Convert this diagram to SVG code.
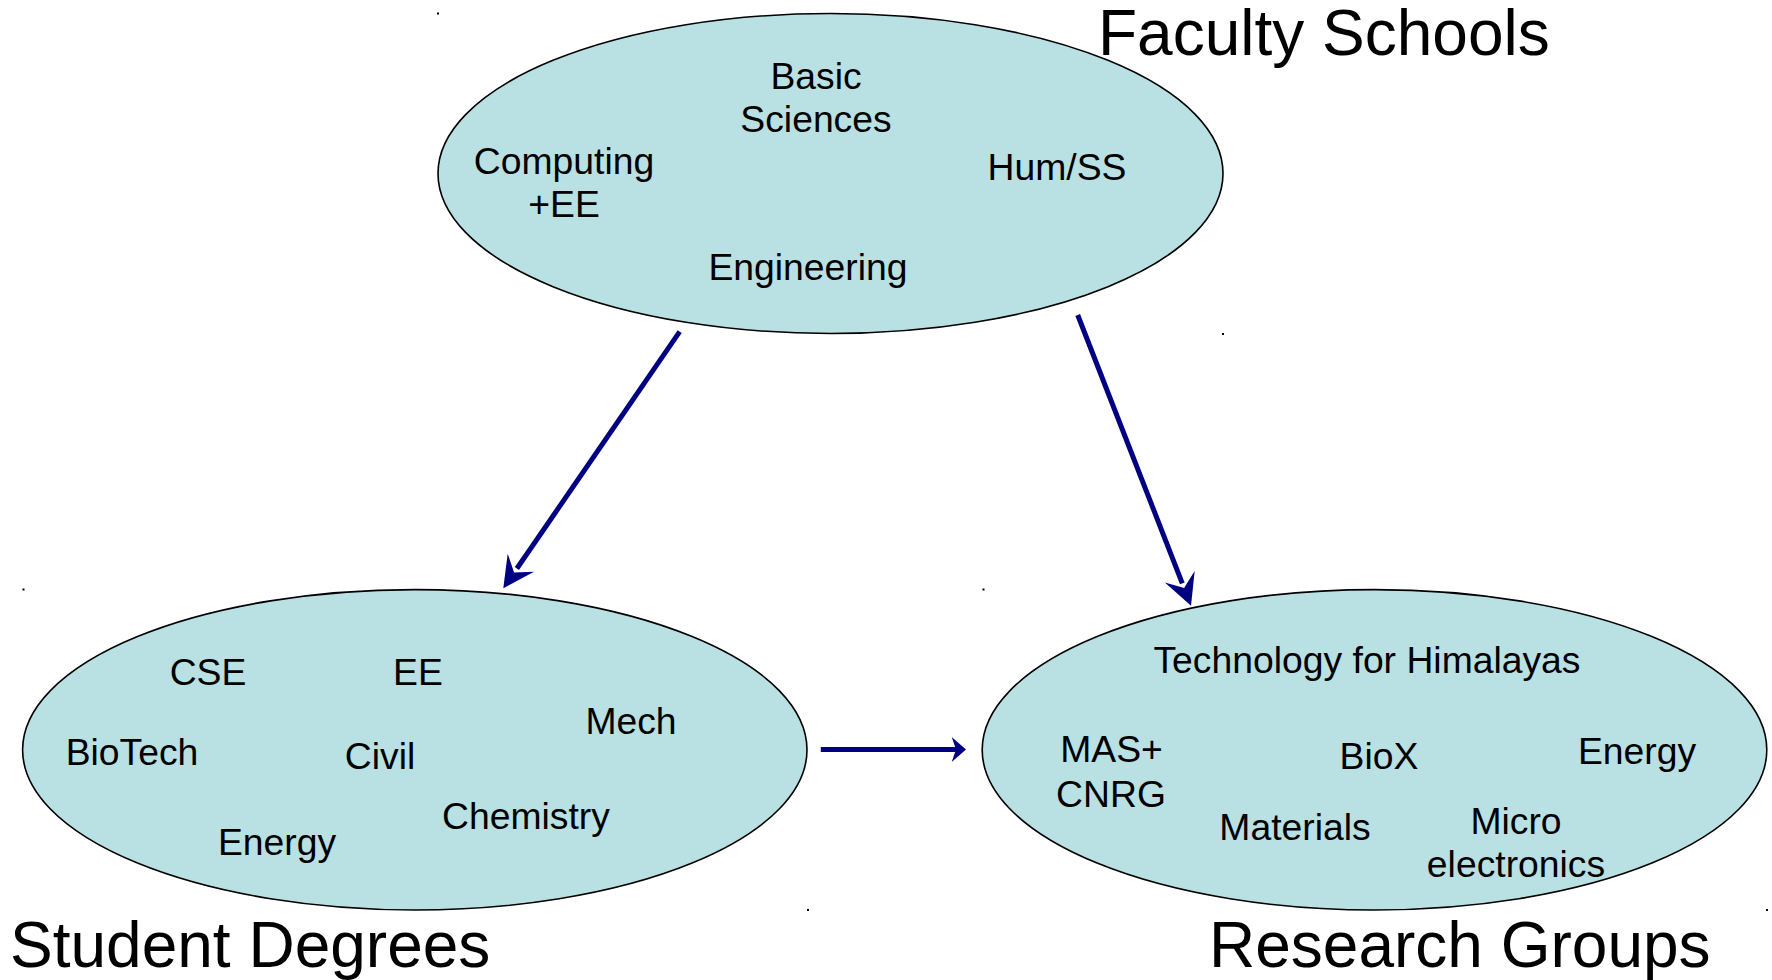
<svg xmlns="http://www.w3.org/2000/svg" width="1772" height="980" viewBox="0 0 1772 980">
<style>
  .node ellipse { fill: #b9e0e3; stroke: #000000; stroke-width: 1.6; }
  .lbl { font-family: "Liberation Sans", Arial, sans-serif; font-size: 37.3px; fill: #000000; text-anchor: middle; }
  .title { font-family: "Liberation Sans", Arial, sans-serif; font-size: 64px; fill: #000000; }
  .conn line { stroke: #000080; stroke-width: 5; fill: none; }
  .dot { fill: #000000; }
</style>
<defs>
  <marker id="headBig" markerUnits="userSpaceOnUse" orient="auto" overflow="visible" refX="0" refY="0" markerWidth="40" markerHeight="40">
    <path d="M24,0 L-7,-16 L5,0 L-7,16 Z" fill="#000080"/>
  </marker>
  <marker id="headSmall" markerUnits="userSpaceOnUse" orient="auto" overflow="visible" refX="0" refY="0" markerWidth="20" markerHeight="30">
    <path d="M10,0 L-4.3,-12.5 L0,0 L-4.3,12.5 Z" fill="#000080"/>
  </marker>
</defs>
<rect x="0" y="0" width="1772" height="980" fill="#ffffff"/>

<g id="faculty-schools" class="node">
  <ellipse cx="830.5" cy="173.5" rx="392.5" ry="160"/>
  <text class="lbl" x="816" y="88.5">Basic</text>
  <text class="lbl" x="816" y="131.5">Sciences</text>
  <text class="lbl" x="564" y="173.5">Computing</text>
  <text class="lbl" x="564" y="217">+EE</text>
  <text class="lbl" x="1057" y="180">Hum/SS</text>
  <text class="lbl" x="808" y="279.5">Engineering</text>
</g>

<g id="student-degrees" class="node">
  <ellipse cx="414.8" cy="749.8" rx="392.2" ry="160.2"/>
  <text class="lbl" x="208" y="684.5">CSE</text>
  <text class="lbl" x="418" y="684.5">EE</text>
  <text class="lbl" x="631" y="733.5">Mech</text>
  <text class="lbl" x="132" y="764.5">BioTech</text>
  <text class="lbl" x="380" y="768.5">Civil</text>
  <text class="lbl" x="526" y="828.5">Chemistry</text>
  <text class="lbl" x="277" y="855">Energy</text>
</g>

<g id="research-groups" class="node">
  <ellipse cx="1374.5" cy="749.8" rx="392.3" ry="160.2"/>
  <text class="lbl" x="1367" y="673">Technology for Himalayas</text>
  <text class="lbl" x="1111.5" y="762">MAS+</text>
  <text class="lbl" x="1111" y="807">CNRG</text>
  <text class="lbl" x="1379" y="768.5">BioX</text>
  <text class="lbl" x="1637" y="763.5">Energy</text>
  <text class="lbl" x="1295" y="839.5">Materials</text>
  <text class="lbl" x="1516" y="833.5">Micro</text>
  <text class="lbl" x="1516" y="877">electronics</text>
</g>

<g id="titles">
  <text class="title" x="1098" y="55">Faculty Schools</text>
  <text class="title" x="10" y="966.7">Student Degrees</text>
  <text class="title" x="1209" y="966.7">Research Groups</text>
</g>

<g id="connectors" class="conn">
  <line x1="679.7" y1="331.7" x2="516.9" y2="568.5" marker-end="url(#headBig)"/>
  <line x1="1077.7" y1="315" x2="1182.3" y2="583.3" marker-end="url(#headBig)"/>
  <line x1="820.8" y1="749.5" x2="956" y2="749.5" marker-end="url(#headSmall)"/>
</g>

<g id="corner-dots">
  <rect class="dot" x="437" y="12.5" width="2" height="2"/>
  <rect class="dot" x="1222" y="333" width="2" height="2"/>
  <rect class="dot" x="22.5" y="588.5" width="2" height="2"/>
  <rect class="dot" x="807" y="909" width="2" height="2"/>
  <rect class="dot" x="982.5" y="588.5" width="2" height="2"/>
  <rect class="dot" x="1766" y="909" width="2" height="2"/>
</g>
</svg>
